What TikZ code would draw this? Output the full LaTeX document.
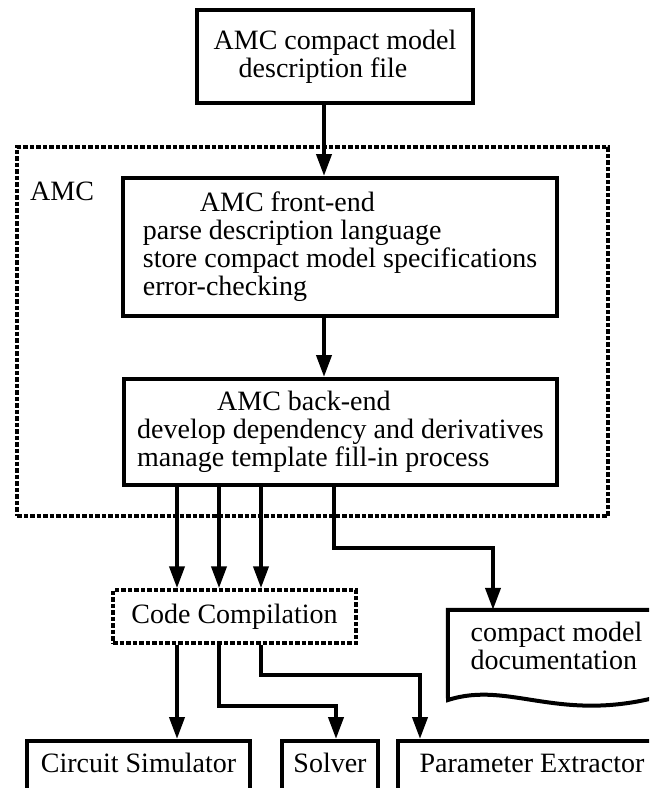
\documentclass[tikz,border=0pt]{standalone}
\usepackage{fontspec}
\setmainfont{Liberation Serif}
\usetikzlibrary{arrows.meta}

\begin{document}
\begin{tikzpicture}[x=1pt, y=-1pt, line join=miter,
  every node/.style={font=\fontsize{28}{28}\selectfont, inner sep=0pt},
  box/.style={draw=black, line width=4pt, align=left},
  dashbox/.style={box, line width=3.5pt, dash pattern=on 4.5pt off 2pt},
  endbox/.style={box, anchor=north, text height=20pt, text depth=80pt, inner ysep=11pt},
  arr/.style={line width=4pt, -{Triangle[length=22pt, width=15pt]}}]

\clip (0,0) rectangle (649,788);

\node[box, minimum width=276, minimum height=93] (desc) at (335,56.5) {AMC compact model\\\hspace*{25pt}description file};

\node[dashbox, minimum width=591, minimum height=369] (amc) at (312.5,331.5) {};
\node[anchor=base west] (amclabel) at (30,200) {AMC};

\node[box, minimum width=434, minimum height=138] (front) at (340,247) {\hspace*{57pt}AMC front-end\\parse description language\\store compact model specifications\\error-checking};

\node[box, minimum width=433, minimum height=106] (back) at (340.5,432) {\hspace*{80pt}AMC back-end\\develop dependency and derivatives\\manage template fill-in process};

\node[dashbox, minimum width=243, minimum height=53] (comp) at (234.5,616.5) {Code Compilation};

\node[minimum width=217, minimum height=72, align=left] (doc) at (556.5,646) {compact model\\documentation};
\draw[line width=4pt] (448,700) -- (doc.north west) -- (doc.north east) -- (665,695)
  .. controls (560,725) and (510,680) .. (448,700) -- cycle;% wavy bottom

\node[endbox, minimum width=223] (sim) at (138.5,739) {Circuit Simulator};
\node[endbox, minimum width=96] (solver) at (330,739) {Solver};
\node[endbox, minimum width=268] (extract) at (532,739) {Parameter Extractor};

\coordinate (x0) at (324,0);
\coordinate (x1) at (177,0);
\coordinate (x2) at (219,0);
\coordinate (x3) at (261,0);
\coordinate (x4) at (334,0);
\coordinate (b1) at (493,548);
\coordinate (b2) at (336,706);
\coordinate (b3) at (420,675);

\draw[arr] (desc.south -| x0) -- (front.north -| x0);
\draw[arr] (front.south -| x0) -- (back.north -| x0);
\foreach \c in {x1,x2,x3}
  \draw[arr] (back.south -| \c) -- (comp.north -| \c);
\draw[arr] (back.south -| x4) |- (b1) -- (doc.north -| b1);
\draw[arr] (comp.south -| x1) -- (sim.north -| x1);
\draw[arr] (comp.south -| x2) |- (b2) -- (solver.north -| b2);
\draw[arr] (comp.south -| x3) |- (b3) -- (extract.north -| b3);
\end{tikzpicture}
\end{document}
